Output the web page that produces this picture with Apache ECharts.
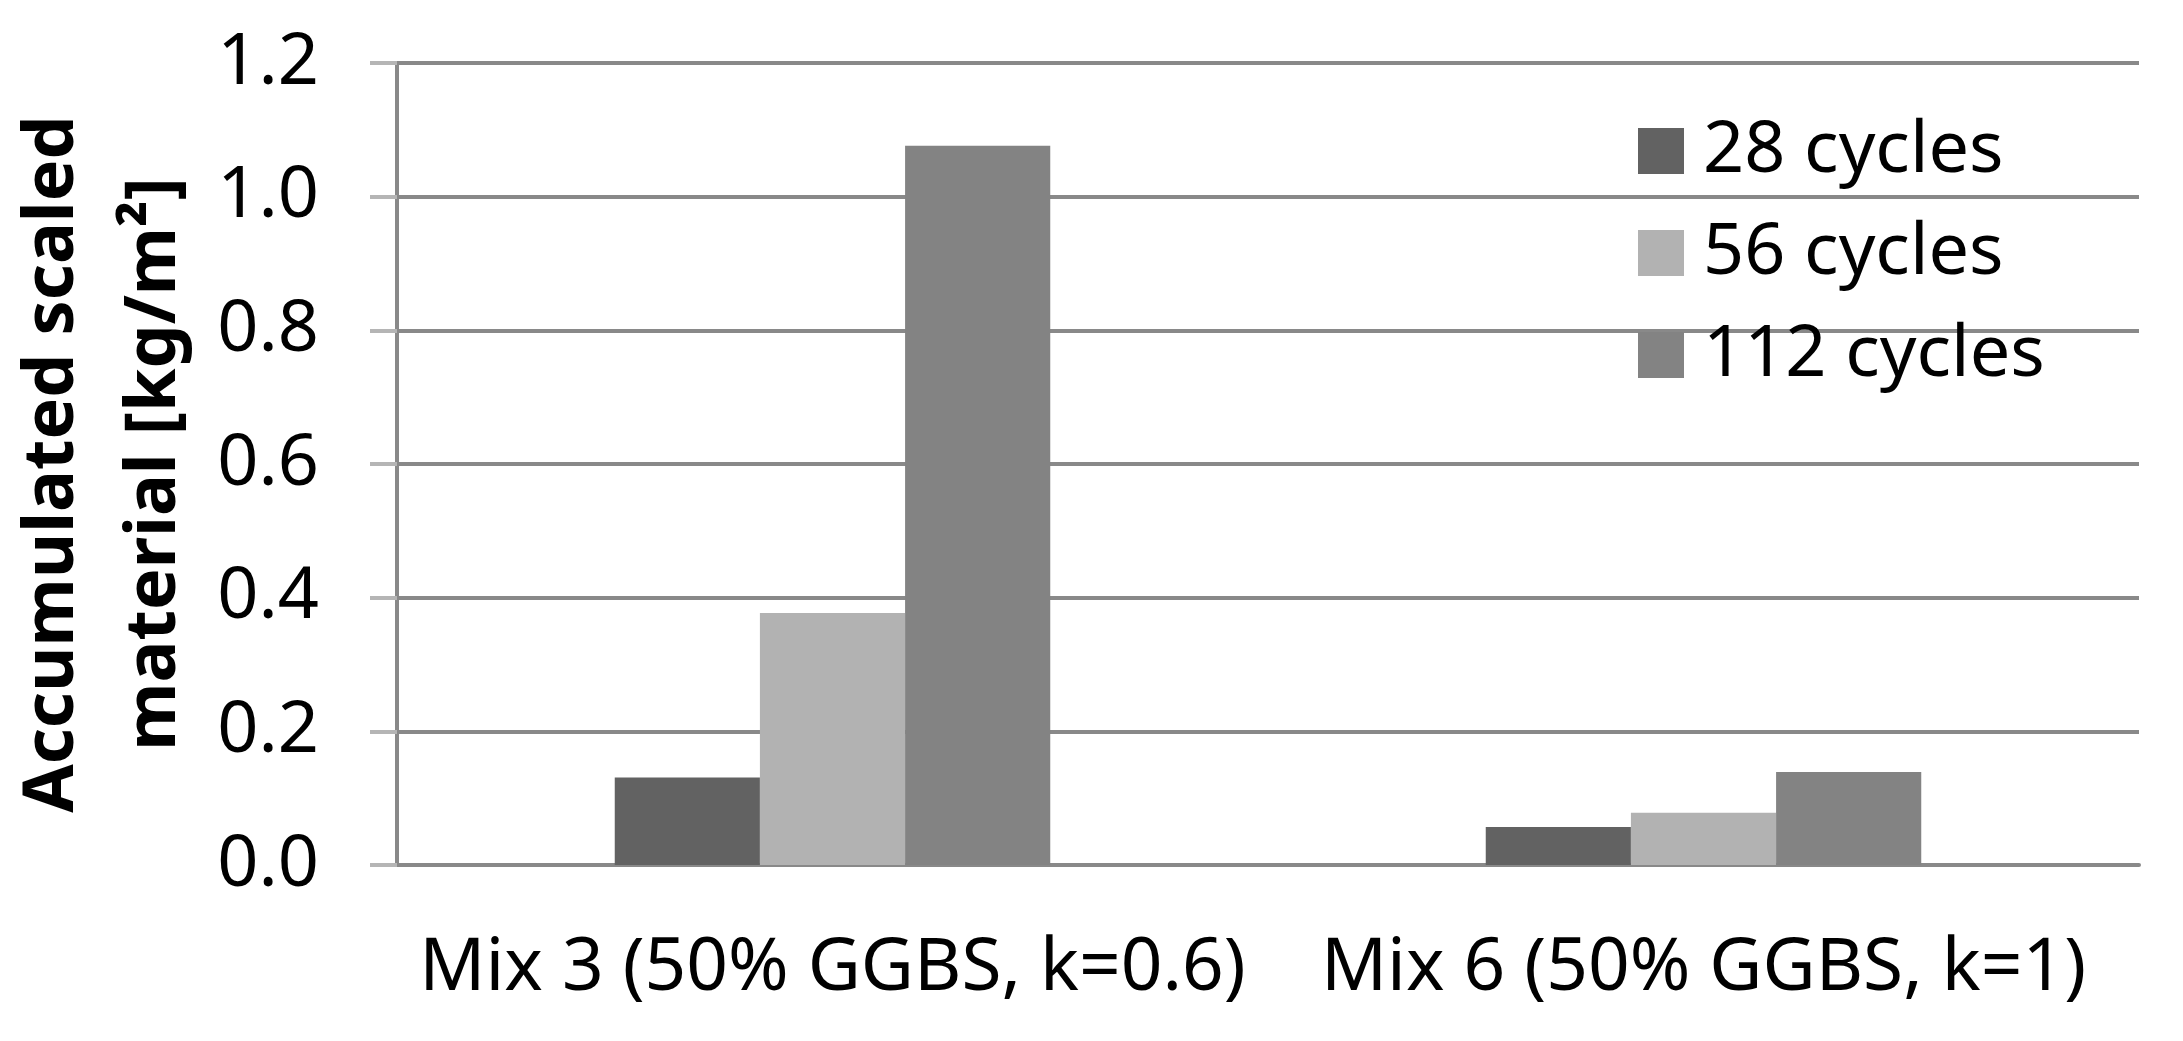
<!DOCTYPE html>
<html>
<head>
<meta charset="utf-8">
<script src="https://cdn.jsdelivr.net/npm/echarts@6/dist/echarts.min.js"></script>
<style>
  html, body { margin: 0; padding: 0; background: #fff; }
  #chart { width: 2183px; height: 1041px; }
</style>
</head>
<body>
<div id="chart"></div>
<script>
const categories = ['Mix 3 (50% GGBS, k=0.6)', 'Mix 6 (50% GGBS, k=1)']
const seriesNames = ['28 cycles', '56 cycles', '112 cycles']
const cycles28 = [0.131, 0.057]
const cycles56 = [0.377, 0.078]
const cycles112 = [1.076, 0.139]
const yTicks = [0, 0.2, 0.4, 0.6, 0.8, 1.0, 1.2]

const colors = ['#626262', '#b2b2b2', '#838383']
const gridColor = '#898989'

const chart = echarts.init(document.getElementById('chart'))

chart.setOption({
  animation: false,
  backgroundColor: '#fff',
  grid: {left: 397, right: 44, top: 63, bottom: 176, outerBoundsMode: 'none'},
  legend: {
    orient: 'vertical',
    left: 1633,
    top: 110,
    itemWidth: 46,
    itemHeight: 46,
    itemGap: 30,
    icon: 'rect',
    textStyle: {
      fontFamily: 'Noto Sans',
      fontSize: 72,
      color: '#000',
      padding: [0, 0, 0, 14]
    },
    data: seriesNames
  },
  xAxis: {
    type: 'category',
    data: categories,
    axisTick: {show: false},
    axisLine: {lineStyle: {color: gridColor, width: 4}},
    axisLabel: {
      fontFamily: 'Noto Sans',
      fontSize: 73,
      color: '#000',
      margin: 68,
      interval: 0
    }
  },
  yAxis: {
    type: 'value',
    min: yTicks[0],
    max: yTicks[yTicks.length - 1],
    interval: 0.2,
    name: 'Accumulated scaled\nmaterial [kg/m²]',
    nameLocation: 'middle',
    nameRotate: 90,
    nameGap: 174,
    nameTextStyle: {
      fontFamily: 'Noto Sans',
      fontWeight: 'bold',
      fontSize: 70,
      lineHeight: 102,
      color: '#000'
    },
    axisLine: {show: true, lineStyle: {color: gridColor, width: 4}},
    axisTick: {show: true, inside: false, length: 27, lineStyle: {color: '#b5b5b5', width: 4}},
    splitLine: {lineStyle: {color: gridColor, width: 4}},
    axisLabel: {
      fontFamily: 'Noto Sans',
      fontSize: 72,
      color: '#000',
      margin: 78,
      formatter: v => v.toFixed(1)
    }
  },
  series: [
    {name: seriesNames[0], type: 'bar', data: cycles28, itemStyle: {color: colors[0]}, barGap: '0%', barCategoryGap: '50%'},
    {name: seriesNames[1], type: 'bar', data: cycles56, itemStyle: {color: colors[1]}},
    {name: seriesNames[2], type: 'bar', data: cycles112, itemStyle: {color: colors[2]}}
  ]
})
</script>
</body>
</html>
